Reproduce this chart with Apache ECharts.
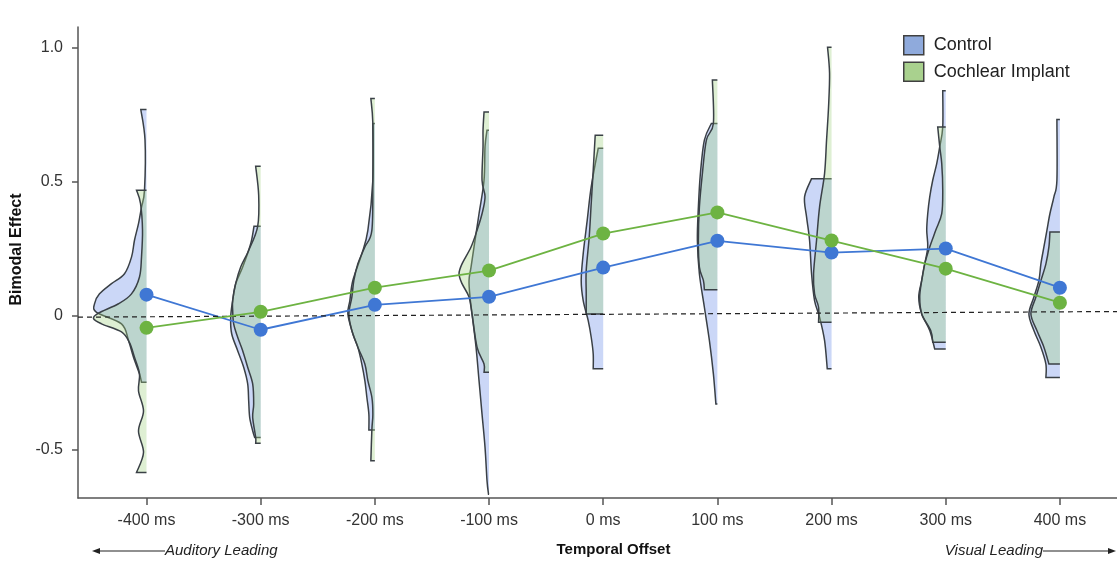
<!DOCTYPE html>
<html>
<head>
<meta charset="utf-8">
<title>Bimodal Effect by Temporal Offset</title>
<script src="https://cdn.jsdelivr.net/npm/echarts@6.0.0/dist/echarts.min.js"></script>
<style>
  html, body { margin: 0; padding: 0; background: #fff; }
  #chart { width: 1117px; height: 576px; }
</style>
</head>
<body>
<div id="chart"></div>
<script>
// temporal offsets (ms) and their tick labels
const offsets = [-400, -300, -200, -100, 0, 100, 200, 300, 400];
const offsetLabels = ['-400 ms', '-300 ms', '-200 ms', '-100 ms', '0 ms', '100 ms', '200 ms', '300 ms', '400 ms'];
const yTicks = [-0.5, 0, 0.5, 1.0];
const yTickLabels = ['-0.5', '0', '0.5', '1.0'];

// group means
const controlMeans = [0.079, -0.052, 0.041, 0.071, 0.18, 0.28, 0.236, 0.251, 0.105];
const implantMeans = [-0.045, 0.015, 0.105, 0.169, 0.307, 0.386, 0.281, 0.176, 0.049];

// half-violin profiles, [bimodal effect, density], top to bottom
const controlViolins = [
  [[0.77,5.7],[0.656,1.5],[0.469,2],[0.406,5],[0.344,8],[0.282,12],[0.219,15],[0.157,22],[0.12,35],[0.082,47],[0.045,52],[0.013,50],[-0.03,25],[-0.092,18],[-0.155,13],[-0.217,7],[-0.248,5]],
  [[0.334,6.7],[0.269,10],[0.182,18],[0.12,25],[0.057,28],[-0.005,30],[-0.067,29],[-0.13,23],[-0.192,17],[-0.254,13],[-0.317,12],[-0.379,11],[-0.429,8],[-0.454,6]],
  [[0.718,2],[0.506,2],[0.319,7],[0.232,13],[0.132,22],[0.057,25],[0.007,27],[-0.067,22],[-0.117,17],[-0.18,13],[-0.242,10],[-0.304,8],[-0.367,6],[-0.426,6]],
  [[0.693,2],[0.631,4],[0.506,5],[0.381,10],[0.257,15],[0.182,18],[0.132,20],[0.07,19],[0.007,17],[-0.117,13],[-0.242,10],[-0.367,7],[-0.491,4],[-0.616,2],[-0.666,0.5]],
  [[0.625,5],[0.481,12],[0.356,16],[0.232,20],[0.132,22],[0.057,20],[-0.018,15],[-0.08,12],[-0.142,10],[-0.198,10]],
  [[0.718,6],[0.656,13],[0.531,17],[0.406,19],[0.282,20],[0.157,18],[0.032,13],[-0.092,8],[-0.217,4],[-0.329,1.5]],
  [[0.512,20],[0.444,27],[0.369,25],[0.282,22],[0.157,20],[0.057,17],[-0.005,12],[-0.092,7],[-0.198,4.3]],
  [[0.84,3],[0.705,3],[0.631,6],[0.568,9],[0.506,13],[0.444,16],[0.381,18],[0.319,19],[0.257,18],[0.194,21],[0.132,24],[0.07,27],[0.007,24],[-0.055,16],[-0.124,11]],
  [[0.733,3],[0.506,3],[0.444,6],[0.381,10],[0.319,13],[0.257,16],[0.194,19],[0.132,21],[0.07,26],[0.007,31],[-0.055,26],[-0.117,19],[-0.18,14],[-0.23,14]]
];
const implantViolins = [
  [[0.469,10],[0.42,6],[0.32,4],[0.219,5],[0.145,7],[0.082,15],[0.045,28],[0.01,48],[-0.01,53],[-0.03,45],[-0.06,25],[-0.1,17],[-0.155,12],[-0.217,7],[-0.28,8],[-0.355,3],[-0.43,8],[-0.51,3],[-0.585,10]],
  [[0.558,5],[0.45,2],[0.334,3],[0.244,12],[0.182,20],[0.12,25],[0.057,28],[0.02,28],[-0.03,27],[-0.08,23],[-0.13,18],[-0.192,13],[-0.254,8],[-0.329,7],[-0.379,8],[-0.454,5],[-0.476,5]],
  [[0.811,4],[0.718,2],[0.506,2],[0.319,3],[0.257,10],[0.194,17],[0.132,21],[0.07,23],[0.007,26],[-0.055,23],[-0.117,17],[-0.18,10],[-0.242,7],[-0.304,3],[-0.367,2],[-0.426,3],[-0.541,4]],
  [[0.761,5],[0.693,6],[0.631,6],[0.506,7],[0.444,4],[0.381,7],[0.319,12],[0.257,18],[0.194,27],[0.157,30],[0.12,27],[0.07,20],[0.007,17],[-0.117,12],[-0.18,5],[-0.211,5]],
  [[0.674,8],[0.543,10],[0.419,12],[0.294,14],[0.169,17],[0.082,17],[0.007,17]],
  [[0.88,5],[0.718,4],[0.656,11],[0.531,15],[0.406,18],[0.282,19],[0.182,18],[0.132,14],[0.097,13]],
  [[1.002,4],[0.905,2],[0.78,3],[0.656,5],[0.531,7],[0.406,12],[0.282,15],[0.157,18],[0.082,17],[0.032,13],[-0.024,13]],
  [[0.705,8],[0.631,6],[0.568,4],[0.469,3],[0.381,4],[0.319,10],[0.257,16],[0.194,21],[0.132,24],[0.07,26],[0.007,24],[-0.055,15],[-0.099,13]],
  [[0.313,10],[0.257,11],[0.194,14],[0.132,19],[0.07,24],[0.007,29],[-0.055,23],[-0.117,16],[-0.18,11]]
];

const FONT = '"Liberation Sans", Arial, sans-serif';
const DENSITY_TO_MS = 0.876; // density units -> ms on the x axis

function f(p) { return p[0].toFixed(2) + ',' + p[1].toFixed(2); }

// half violin drawn to the left of the offset, smooth outline through the profile points
function violinRenderer(profiles, fill) {
  return function (params, api) {
    const x = api.value(0);
    const prof = profiles[params.dataIndex];
    const pts = prof.map(p => api.coord([x - p[1] * DENSITY_TO_MS, p[0]]));
    const top = api.coord([x, prof[0][0]]);
    const bot = api.coord([x, prof[prof.length - 1][0]]);
    let d = 'M' + f(top) + 'L' + f(pts[0]);
    for (let i = 0; i < pts.length - 1; i++) {
      const p0 = pts[i - 1] || pts[i];
      const p1 = pts[i];
      const p2 = pts[i + 1];
      const p3 = pts[i + 2] || pts[i + 1];
      const c1 = [p1[0] + (p2[0] - p0[0]) / 6, p1[1] + (p2[1] - p0[1]) / 6];
      const c2 = [p2[0] - (p3[0] - p1[0]) / 6, p2[1] - (p3[1] - p1[1]) / 6];
      d += 'C' + f(c1) + ' ' + f(c2) + ' ' + f(p2);
    }
    d += 'L' + f(bot);
    return {
      type: 'path',
      shape: { pathData: d },
      style: { fill: fill, stroke: '#3a4046', lineWidth: 1.5 }
    };
  };
}

const chart = echarts.init(document.getElementById('chart'));

const option = {
  animation: false,
  backgroundColor: '#fff',
  textStyle: { fontFamily: FONT },
  grid: { left: 78, right: 0, top: 27, bottom: 78 },
  legend: {
    data: ['Control', 'Cochlear Implant'],
    orient: 'vertical',
    left: 903,
    top: 35,
    padding: 0,
    itemWidth: 20,
    itemHeight: 19,
    itemGap: 6,
    icon: 'rect',
    itemStyle: { borderColor: '#404040', borderWidth: 1.5 },
    textStyle: { fontSize: 18, color: '#222', fontFamily: FONT, padding: [0, 0, 0, 5] }
  },
  xAxis: {
    type: 'value',
    min: -460,
    max: 450,
    name: 'Temporal Offset',
    nameLocation: 'middle',
    nameGap: 44,
    nameTextStyle: { fontSize: 15, fontWeight: 'bold', color: '#111', padding: [0, 0, 0, 32] },
    splitLine: { show: false },
    axisLine: { onZero: false, lineStyle: { color: '#555', width: 1.5 } },
    axisTick: { show: true, length: 7, customValues: offsets, lineStyle: { color: '#555', width: 1.5 } },
    axisLabel: {
      customValues: offsets,
      formatter: v => offsetLabels[offsets.indexOf(v)],
      fontSize: 16,
      color: '#333',
      margin: 15
    }
  },
  yAxis: {
    type: 'value',
    min: -0.68,
    max: 1.078,
    name: 'Bimodal Effect',
    nameLocation: 'middle',
    nameGap: 52,
    nameTextStyle: { fontSize: 16, fontWeight: 'bold', color: '#111', padding: [0, 0, 0, 26] },
    splitLine: { show: false },
    axisLine: { show: true, onZero: false, lineStyle: { color: '#555', width: 1.5 } },
    axisTick: { show: true, length: 6, customValues: yTicks, lineStyle: { color: '#555', width: 1.5 } },
    axisLabel: {
      customValues: yTicks,
      formatter: v => yTickLabels[yTicks.indexOf(v)],
      fontSize: 16,
      color: '#333',
      margin: 15
    }
  },
  series: [
    {
      name: 'Control',
      type: 'custom',
      z: 2,
      itemStyle: { color: '#8FAADC' },
      renderItem: violinRenderer(controlViolins, 'rgba(130,160,235,0.42)'),
      data: offsets.map((x, i) => [x, controlMeans[i]])
    },
    {
      name: 'Cochlear Implant',
      type: 'custom',
      z: 2,
      itemStyle: { color: '#A9D18E' },
      renderItem: violinRenderer(implantViolins, 'rgba(160,210,130,0.35)'),
      data: offsets.map((x, i) => [x, implantMeans[i]])
    },
    {
      name: 'Control mean',
      type: 'line',
      z: 4,
      symbol: 'circle',
      symbolSize: 14,
      itemStyle: { color: '#3f77d4' },
      lineStyle: { color: '#3f77d4', width: 1.8 },
      data: offsets.map((x, i) => [x, controlMeans[i]]),
      markLine: {
        silent: true,
        symbol: 'none',
        label: { show: false },
        lineStyle: { color: '#222', type: [5, 4], width: 1.2 },
        data: [[{ coord: [-460, -0.005] }, { coord: [450, 0.016] }]]
      }
    },
    {
      name: 'Cochlear Implant mean',
      type: 'line',
      z: 5,
      symbol: 'circle',
      symbolSize: 14,
      itemStyle: { color: '#6db342' },
      lineStyle: { color: '#6db342', width: 1.8 },
      data: offsets.map((x, i) => [x, implantMeans[i]])
    }
  ],
  graphic: [
    { type: 'line', shape: { x1: 97, y1: 551, x2: 165, y2: 551 }, style: { stroke: '#222', lineWidth: 1.2 } },
    { type: 'polygon', shape: { points: [[92, 551], [100, 548], [100, 554]] }, style: { fill: '#222' } },
    { type: 'text', left: 165, top: 543, style: { text: 'Auditory Leading', font: 'italic 15px ' + FONT, fill: '#222' } },
    { type: 'text', right: 74, top: 543, style: { text: 'Visual Leading', font: 'italic 15px ' + FONT, fill: '#222' } },
    { type: 'line', shape: { x1: 1043, y1: 551, x2: 1111, y2: 551 }, style: { stroke: '#222', lineWidth: 1.2 } },
    { type: 'polygon', shape: { points: [[1116, 551], [1108, 548], [1108, 554]] }, style: { fill: '#222' } }
  ]
};

chart.setOption(option);
</script>
</body>
</html>
